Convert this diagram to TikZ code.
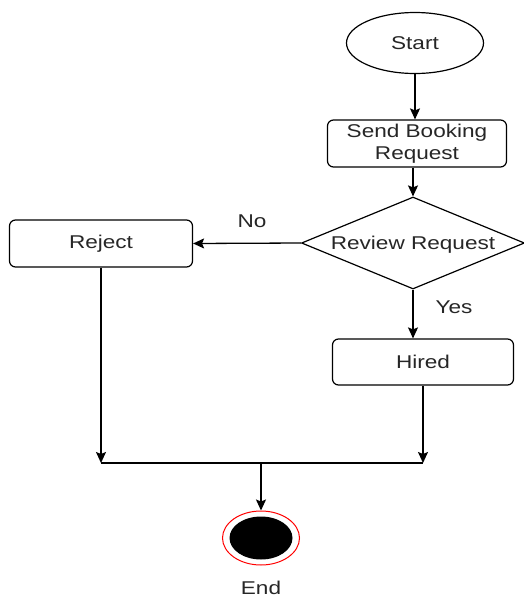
\documentclass[tikz,border=0pt]{standalone}
\usepackage{fontspec}
\usepackage{graphicx}
\setmainfont{Liberation Sans}
\usetikzlibrary{shapes.geometric,arrows.meta}
\newcommand{\wtxt}[1]{\scalebox{1.22}[1]{#1}}
\definecolor{txt}{HTML}{262626}
\begin{document}
\begin{tikzpicture}[x=1pt,y=-1pt,
  every node/.style={font=\fontsize{18.5}{22}\selectfont, text=txt},
  shp/.style={draw=black, line width=1.2pt, inner sep=0pt},
  rbox/.style={shp, rectangle, rounded corners=6pt},
  conn/.style={draw=black, line width=1.3pt},
  arr/.style={conn, -{Stealth[length=11pt,width=10pt,inset=2pt]}}]
\useasboundingbox (0,0) rectangle (523,598);
\node[shp, ellipse, minimum width=137pt, minimum height=61pt] (start) at (415,43) {\wtxt{Start}};
\node[rbox, minimum width=179pt, minimum height=47pt, align=center] (send) at (417,143.5) {\wtxt{Send Booking}\\\wtxt{Request}};
\node[shp, diamond, minimum width=223pt, minimum height=92pt] (review) at (413,243) {\makebox[0pt][c]{\raisebox{-6.5pt}[0pt][0pt]{\wtxt{Review Request}}}};
\node[rbox, minimum width=183pt, minimum height=47pt] (reject) at (101,243.5) {\wtxt{Reject}};
\node[rbox, minimum width=181pt, minimum height=46pt] (hired) at (423,362) {\wtxt{Hired}};
\coordinate (jl) at (101,463);
\coordinate (jr) at (423,463);
\coordinate (jm) at (261,463);
\node[ellipse, draw=red, line width=1pt, fill=white, minimum width=77pt, minimum height=54pt, inner sep=0pt] (end) at (261,538) {};
\node[ellipse, fill=black, minimum width=63pt, minimum height=43pt, inner sep=0pt] (endin) at (end.center) {};
\node[inner sep=0pt] (endlbl) at (261,588) {\wtxt{End}};
\node (nolbl) at (252,221) {\wtxt{No}};
\node (yeslbl) at (454,307) {\wtxt{Yes}};
\draw[arr] (start.south) -- (start.south |- send.north);
\draw[arr] (send.south -| review.north) -- (review.north);
\draw[arr] (review.west) -- (reject.east);
\draw[arr] (review.south) -- (review.south |- hired.north);
\draw[arr] (reject.south) -- (jl);
\draw[arr] (hired.south) -- (jr);
\draw[conn] (jl) -- (jr);
\draw[arr] (jm) -- (end.north);
\end{tikzpicture}
\end{document}
